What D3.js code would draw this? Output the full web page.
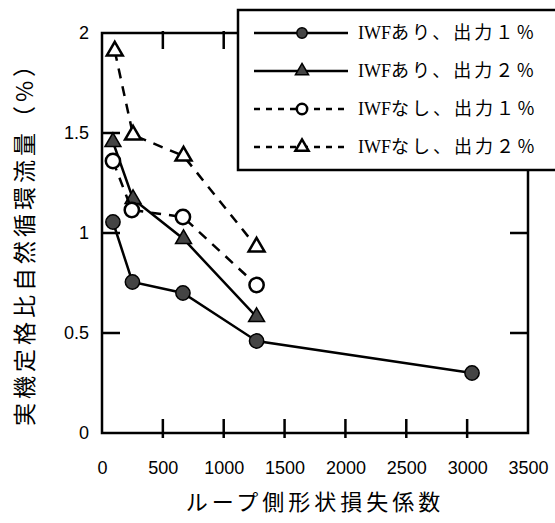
<!DOCTYPE html>
<html>
<head>
<meta charset="utf-8">
<script src="https://cdn.jsdelivr.net/npm/d3@7"></script>
<style>
  body { margin: 0; background: #fff; }
  svg { display: block; }
</style>
</head>
<body>
<svg id="chart"></svg>
<script>
const width = 555;
const height = 523;
const margin = { top: 33, right: 27, bottom: 90, left: 102 };

// data
const seriesNames = ["あり、出力１％", "あり、出力２％", "なし、出力１％", "なし、出力２％"];
const lossAri1 = [90, 250, 665, 1270, 3040];
const flowAri1 = [1.055, 0.755, 0.70, 0.46, 0.30];
const lossAri2 = [90, 255, 670, 1270];
const flowAri2 = [1.455, 1.17, 0.97, 0.58];
const lossNashi1 = [90, 245, 665, 1270];
const flowNashi1 = [1.36, 1.115, 1.08, 0.74];
const lossNashi2 = [105, 255, 670, 1270];
const flowNashi2 = [1.91, 1.49, 1.385, 0.93];
const xTicks = [0, 500, 1000, 1500, 2000, 2500, 3000, 3500];
const yTicks = [0, 0.5, 1, 1.5, 2];

const series = [
  { name: seriesNames[0], x: lossAri1, y: flowAri1, shape: "circle", filled: true, dashed: false },
  { name: seriesNames[1], x: lossAri2, y: flowAri2, shape: "triangle", filled: true, dashed: false },
  { name: seriesNames[2], x: lossNashi1, y: flowNashi1, shape: "circle", filled: false, dashed: true },
  { name: seriesNames[3], x: lossNashi2, y: flowNashi2, shape: "triangle", filled: false, dashed: true }
];

const svg = d3.select("#chart")
    .attr("width", width)
    .attr("height", height);

const x = d3.scaleLinear()
    .domain([0, 3500])
    .range([margin.left, width - margin.right]);

const y = d3.scaleLinear()
    .domain([0, 2])
    .range([height - margin.bottom, margin.top]);

const tickFont = "'Liberation Sans', Arial, sans-serif";
const cjkFont = "'Noto Sans CJK JP', sans-serif";

// axes: labels from d3 axes, frame drawn as a box
const axisBottomG = svg.append("g")
    .attr("transform", `translate(0,${y(0)})`)
    .call(d3.axisBottom(x).tickValues(xTicks).tickSize(0).tickPadding(28).tickFormat(d3.format("d")));

const axisLeftG = svg.append("g")
    .attr("transform", `translate(${x(0)},0)`)
    .call(d3.axisLeft(y).tickValues(yTicks).tickSize(0).tickPadding(13).tickFormat(d3.format("")));

[axisBottomG, axisLeftG].forEach(g => {
    g.select(".domain").remove();
    g.selectAll(".tick line").remove();
    g.selectAll(".tick text")
        .attr("fill", "#000")
        .style("font-family", tickFont)
        .style("font-size", "18px");
});

const xInner = xTicks.slice(1, -1);
const yInner = yTicks.slice(1, -1);

// tick marks pointing into the plot on all four sides
const tickPath = d3.path();
xInner.forEach(v => {
    tickPath.moveTo(x(v), y(0) + 5);
    tickPath.lineTo(x(v), y(0) - 14);
    tickPath.moveTo(x(v), y(2) - 2);
    tickPath.lineTo(x(v), y(2) + 16);
});
yInner.forEach(v => {
    tickPath.moveTo(x(0), y(v));
    tickPath.lineTo(x(0) + 18, y(v));
    tickPath.moveTo(x(3500), y(v));
    tickPath.lineTo(x(3500) - 18, y(v));
});

svg.append("path")
    .attr("d", tickPath.toString())
    .attr("fill", "none")
    .attr("stroke", "#000")
    .attr("stroke-width", 2.5);

svg.append("rect")
    .attr("x", x(0))
    .attr("y", y(2))
    .attr("width", x(3500) - x(0))
    .attr("height", y(0) - y(2))
    .attr("fill", "none")
    .attr("stroke", "#000")
    .attr("stroke-width", 2.5);

// axis titles
svg.append("text")
    .attr("x", (x(0) + x(3500)) / 2)
    .attr("y", 510)
    .attr("text-anchor", "middle")
    .style("font-family", cjkFont)
    .style("font-size", "22px")
    .style("letter-spacing", "4px")
    .text("ループ側形状損失係数");

svg.append("text")
    .attr("transform", `translate(33,238) rotate(-90)`)
    .attr("text-anchor", "middle")
    .style("font-family", cjkFont)
    .style("font-size", "23px")
    .style("letter-spacing", "4px")
    .text("実機定格比自然循環流量（%）");

// lines and markers
const line = d3.line()
    .x(d => x(d[0]))
    .y(d => y(d[1]));

const triangle = d3.symbol().type(d3.symbolTriangle);
const circle = d3.symbol().type(d3.symbolCircle);

function marker(s, big) {
    if (s.shape === "circle") return circle.size(big ? 160 : 85)();
    return triangle.size(big ? 110 : 75)();
}

series.forEach(s => {
    const pts = s.x.map((v, i) => [v, s.y[i]]);
    svg.append("path")
        .datum(pts)
        .attr("d", line)
        .attr("fill", "none")
        .attr("stroke", "#000")
        .attr("stroke-width", 2.5)
        .attr("stroke-dasharray", s.dashed ? "10,8" : null);

    svg.selectAll(null)
        .data(pts)
        .enter().append("path")
        .attr("transform", d => `translate(${x(d[0])},${y(d[1])})`)
        .attr("d", marker(s, true))
        .attr("fill", s.filled ? "#444" : "#fff")
        .attr("stroke", "#000")
        .attr("stroke-width", s.filled ? 1.5 : 2.5);
});

// legend
const legend = svg.append("g");
legend.append("rect")
    .attr("x", 238)
    .attr("y", 10)
    .attr("width", 340)
    .attr("height", 160)
    .attr("fill", "#fff")
    .attr("stroke", "#000")
    .attr("stroke-width", 2.5);

const items = legend.selectAll(".legend-item")
    .data(series)
    .enter().append("g")
    .attr("class", "legend-item")
    .attr("transform", (d, i) => `translate(0,${33 + i * 38})`);

items.append("line")
    .attr("x1", 254)
    .attr("x2", 348)
    .attr("stroke", "#000")
    .attr("stroke-width", 2.5)
    .attr("stroke-dasharray", d => d.dashed ? "6,6" : null);

items.append("path")
    .attr("transform", "translate(302,0)")
    .attr("d", d => marker(d, false))
    .attr("fill", d => d.filled ? "#444" : "#fff")
    .attr("stroke", "#000")
    .attr("stroke-width", d => d.filled ? 1.5 : 2.5);

const legendText = items.append("text")
    .attr("x", 358)
    .attr("dy", "0.35em")
    .style("font-size", "18px");

legendText.append("tspan")
    .style("font-family", "'Liberation Serif', serif")
    .text("IWF");

legendText.append("tspan")
    .style("font-family", cjkFont)
    .style("letter-spacing", "3px")
    .text(d => d.name);
</script>
</body>
</html>
